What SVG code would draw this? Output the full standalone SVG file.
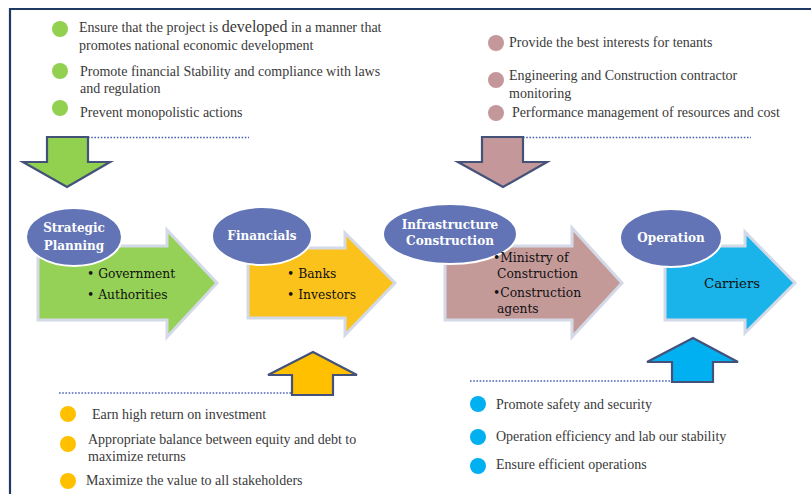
<svg xmlns="http://www.w3.org/2000/svg" width="811" height="494" viewBox="0 0 811 494">
<style>
.t{font-family:"Liberation Serif","Times New Roman",serif;font-size:14px;fill:#3a3a3a}
.e{fill:#6274b6;stroke:#fff;stroke-width:2}
.et{font-family:"DejaVu Serif","Liberation Serif",serif;font-size:12px;font-weight:bold;fill:#fff;text-anchor:middle}
.at{font-family:"DejaVu Serif","Liberation Serif",serif;font-size:12.3px;fill:#111}
.big{stroke:#d3d9e6;stroke-width:3;stroke-linejoin:miter}
.sm{stroke:#44527a;stroke-width:2.2;stroke-linejoin:miter}
.dot{stroke:#4a64b8;stroke-width:1.6;stroke-dasharray:1.6 1.6;fill:none}
</style>
<rect x="0" y="0" width="811" height="494" fill="#fff"/>
<path d="M10 494 V9 H811" fill="none" stroke="#1f3864" stroke-width="2.2"/>

<g id="connectors">
<line class="dot" x1="88" y1="137.5" x2="249" y2="137.5"/>
<line class="dot" x1="523" y1="137.5" x2="751" y2="137.5"/>
<line class="dot" x1="59" y1="393" x2="292" y2="393"/>
<line class="dot" x1="470" y1="381" x2="672" y2="381"/>
<path id="down-green" class="sm" fill="#92d050" d="M47 137 H88 V162 H110 L67 187 L23 162 H47 Z"/>
<path id="down-rose" class="sm" fill="#c4989a" d="M482 137 H523 V162 H547 L503 187 L458 162 H482 Z"/>
<path id="up-yellow" class="sm" fill="#ffc000" d="M292 395 V375 H268 L313 352 L357 375 H333 V395 Z"/>
<path id="up-blue" class="sm" fill="#00b0f0" d="M672 382 V362 H647 L693 338 L738 362 H713 V382 Z"/>
</g>

<g id="strategic-planning">
<path class="big" fill="#95d156" d="M38 246 H167 V230 L217 283 L167 337 V320 H38 Z"/>
<ellipse class="e" cx="74" cy="237" rx="48" ry="29"/>
<text class="et" x="74" y="232">Strategic</text>
<text class="et" x="74" y="250">Planning</text>
<text class="at" x="87" y="278">• Government</text>
<text class="at" x="87" y="299">• Authorities</text>
</g>

<g id="financials">
<path class="big" fill="#fbc21c" d="M248 248 H345 V233 L395 283 L345 335 V318 H248 Z"/>
<ellipse class="e" cx="262" cy="236" rx="50" ry="29"/>
<text class="et" x="262" y="240">Financials</text>
<text class="at" x="287" y="278">• Banks</text>
<text class="at" x="287" y="299">• Investors</text>
</g>

<g id="infrastructure-construction">
<path class="big" fill="#c49a99" d="M445 246 H572 V228 L622 283 L572 337 V320 H445 Z"/>
<ellipse class="e" cx="450" cy="234" rx="67" ry="30"/>
<text class="et" x="450" y="229">Infrastructure</text>
<text class="et" x="450" y="245">Construction</text>
<text class="at" x="493" y="262">•Ministry of</text>
<text class="at" x="497" y="278">Construction</text>
<text class="at" x="493" y="297">•Construction</text>
<text class="at" x="497" y="313">agents</text>
</g>

<g id="operation">
<path class="big" fill="#1bb4ea" d="M665 246 H745 V232 L795 283 L745 333 V320 H665 Z"/>
<ellipse class="e" cx="671" cy="238" rx="51" ry="29"/>
<text class="et" x="671" y="242">Operation</text>
<text class="at" x="704" y="288" style="font-size:13.3px">Carriers</text>
</g>

<g id="goals-regulator">
<circle cx="60" cy="29" r="8" fill="#92d050"/>
<circle cx="60" cy="71" r="8" fill="#92d050"/>
<circle cx="60" cy="108" r="8" fill="#92d050"/>
<text class="t" x="79" y="32">Ensure that the project is <tspan style="font-size:16px">developed</tspan> in a manner that</text>
<text class="t" x="79" y="50">promotes national economic development</text>
<text class="t" x="80" y="76">Promote financial Stability and compliance with laws</text>
<text class="t" x="80" y="93">and  regulation</text>
<text class="t" x="80" y="117">Prevent monopolistic actions</text>
</g>

<g id="goals-construction">
<circle cx="496" cy="43" r="8" fill="#c4989a"/>
<circle cx="496" cy="80" r="8" fill="#c4989a"/>
<circle cx="496" cy="113" r="8" fill="#c4989a"/>
<text class="t" x="509" y="47">Provide the best interests for tenants</text>
<text class="t" x="509" y="80">Engineering and Construction contractor</text>
<text class="t" x="509" y="98">monitoring</text>
<text class="t" x="512" y="117">Performance management of resources and cost</text>
</g>

<g id="goals-financial">
<circle cx="68" cy="414" r="8" fill="#ffc000"/>
<circle cx="68" cy="444" r="8" fill="#ffc000"/>
<circle cx="68" cy="481" r="8" fill="#ffc000"/>
<text class="t" x="92" y="419">Earn high return on investment</text>
<text class="t" x="88" y="444">Appropriate balance between equity and debt to</text>
<text class="t" x="88" y="461">maximize returns</text>
<text class="t" x="86" y="485">Maximize the value to all stakeholders</text>
</g>

<g id="goals-operation">
<circle cx="478" cy="404" r="8" fill="#00b0f0"/>
<circle cx="478" cy="437" r="8" fill="#00b0f0"/>
<circle cx="478" cy="466" r="8" fill="#00b0f0"/>
<text class="t" x="496" y="409">Promote safety and security</text>
<text class="t" x="496" y="441">Operation efficiency and lab our stability</text>
<text class="t" x="496" y="469">Ensure efficient operations</text>
</g>
</svg>
